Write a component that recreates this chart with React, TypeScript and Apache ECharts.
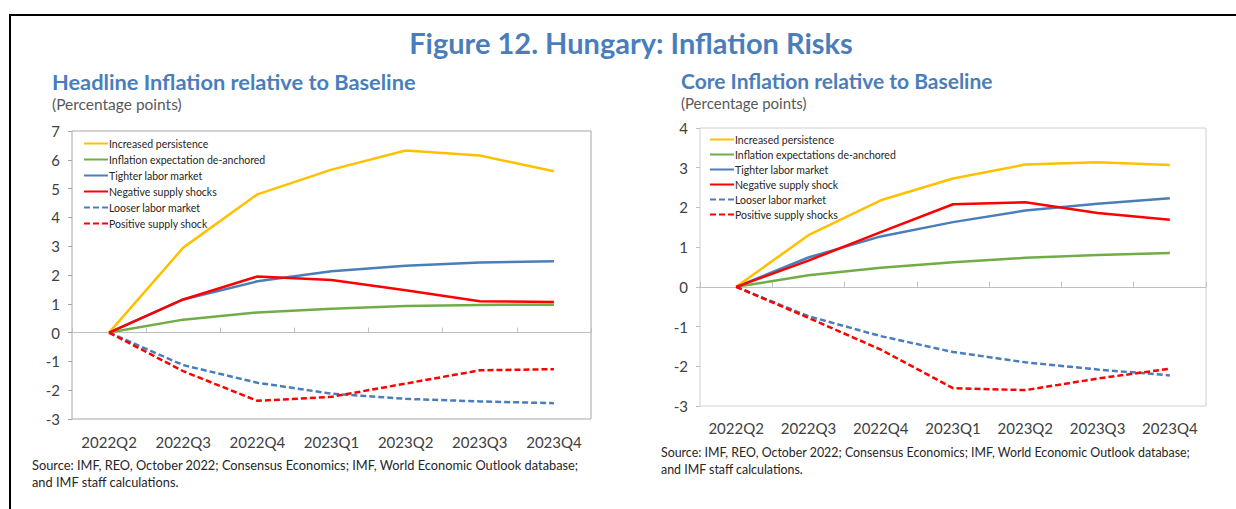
import React, { useEffect, useRef } from "react";
import * as echarts from "echarts";

const categories = ["2022Q2", "2022Q3", "2022Q4", "2023Q1", "2023Q2", "2023Q3", "2023Q4"];

// Headline inflation relative to baseline (pp)
const hIncreased = [0, 2.95, 4.8, 5.66, 6.32, 6.15, 5.6];
const hExpect = [0, 0.45, 0.7, 0.83, 0.92, 0.96, 0.97];
const hTighter = [0, 1.15, 1.78, 2.13, 2.32, 2.43, 2.48];
const hNegSupply = [0, 1.15, 1.95, 1.83, 1.47, 1.09, 1.06];
const hLooser = [0, -1.13, -1.74, -2.12, -2.3, -2.39, -2.45];
const hPosSupply = [0, -1.34, -2.37, -2.23, -1.77, -1.31, -1.27];

// Core inflation relative to baseline (pp)
const cIncreased = [0, 1.3, 2.18, 2.73, 3.08, 3.14, 3.07];
const cExpect = [0, 0.29, 0.48, 0.62, 0.73, 0.8, 0.85];
const cTighter = [0, 0.74, 1.27, 1.63, 1.92, 2.09, 2.23];
const cNegSupply = [0, 0.66, 1.38, 2.08, 2.13, 1.86, 1.69];
const cLooser = [0, -0.74, -1.24, -1.64, -1.9, -2.08, -2.23];
const cPosSupply = [0, -0.78, -1.58, -2.55, -2.6, -2.31, -2.06];

const leftNames = [
  "Increased persistence",
  "Inflation expectation de-anchored",
  "Tighter labor market",
  "Negative supply shocks",
  "Looser labor market",
  "Positive supply shock",
];
const rightNames = [
  "Increased persistence",
  "Inflation expectations de-anchored",
  "Tighter labor market",
  "Negative supply shock",
  "Looser labor market",
  "Positive supply shocks",
];

const sourceLine1 = "Source: IMF, REO, October 2022; Consensus Economics; IMF, World Economic Outlook database;";
const sourceLine2 = "and IMF staff calculations.";

const YELLOW = "#FFC000";
const GREEN = "#70AD47";
const BLUE = "#4A7EBB";
const RED = "#FF0000";
const FONT = "Lato, 'Open Sans', sans-serif";
const TITLE_BLUE = "#4A7EBB";

function mkSeries(name: string, data: number[], color: string, dashed: boolean, xi: number, yi: number, z: number) {
  return {
    type: "line",
    name,
    data,
    xAxisIndex: xi,
    yAxisIndex: yi,
    symbol: "none",
    z,
    lineStyle: { color, width: 2.5, type: dashed ? [6, 3] : "solid" },
    itemStyle: { color },
  };
}

export default function App() {
  const ref = useRef<HTMLDivElement>(null);
  useEffect(() => {
    if (!ref.current) return;
    const chart = echarts.init(ref.current, null, { renderer: "svg" });
    const labelAxis = (gi: number, margin: number) => ({
      type: "category",
      gridIndex: gi,
      data: categories,
      position: "bottom",
      boundaryGap: true,
      axisLine: { show: false, onZero: false },
      axisTick: { show: false },
      axisLabel: { color: "#404040", fontSize: 15, fontFamily: FONT, margin },
      splitLine: { show: false },
    });
    const zeroAxis = (gi: number, lineColor: string) => ({
      type: "category",
      gridIndex: gi,
      data: categories,
      position: "bottom",
      boundaryGap: true,
      axisLine: { show: true, onZero: true, lineStyle: { color: lineColor, width: 1 } },
      axisTick: { show: true, inside: true, length: 5, lineStyle: { color: lineColor } },
      axisLabel: { show: false },
      splitLine: { show: false },
    });
    const yAx = (gi: number, min: number, max: number, tickColor: string) => ({
      type: "value",
      gridIndex: gi,
      min,
      max,
      interval: 1,
      axisLine: { show: false },
      axisTick: { show: true, length: 4, lineStyle: { color: tickColor } },
      axisLabel: { color: "#404040", fontSize: 15, fontFamily: FONT, margin: 12 },
      splitLine: { show: false },
    });
    const legendText = { fontSize: 10.5, color: "#262626", fontFamily: FONT, padding: [0, 0, 0, -4], lineHeight: 10 };
    const txt = (x: number, y: number, text: string, font: string, fill: string, align = "left") => ({
      type: "text",
      x,
      y,
      style: { text, fill, font, textAlign: align, textVerticalAlign: "middle" },
    });

    chart.setOption({
      animation: false,
      backgroundColor: "#ffffff",
      grid: [
        { left: 72, top: 131, width: 519, height: 288, show: true, borderColor: "#A6A6A6", borderWidth: 1, backgroundColor: "transparent" },
        { left: 700, top: 128, width: 506, height: 278, show: true, borderColor: "#D0D0D0", borderWidth: 1, backgroundColor: "transparent" },
      ],
      xAxis: [labelAxis(0, 15), zeroAxis(0, "#BFBFBF"), labelAxis(1, 14), zeroAxis(1, "#BFBFBF")],
      yAxis: [yAx(0, -3, 7, "#A6A6A6"), yAx(1, -3, 4, "#BFBFBF")],
      legend: [
        {
          orient: "vertical",
          left: 83,
          top: 138,
          padding: 0,
          itemWidth: 24,
          itemHeight: 10,
          itemGap: 5,
          selectedMode: false,
          itemStyle: { opacity: 0 },
          textStyle: legendText,
          data: leftNames,
        },
        {
          orient: "vertical",
          left: 709,
          top: 134,
          padding: 0,
          itemWidth: 24,
          itemHeight: 10,
          itemGap: 4,
          selectedMode: false,
          itemStyle: { opacity: 0 },
          textStyle: legendText,
          data: rightNames,
        },
      ],
      series: [
        mkSeries(leftNames[1], hExpect, GREEN, false, 0, 0, 2),
        mkSeries(leftNames[2], hTighter, BLUE, false, 0, 0, 3),
        mkSeries(leftNames[0], hIncreased, YELLOW, false, 0, 0, 4),
        mkSeries(leftNames[3], hNegSupply, RED, false, 0, 0, 5),
        mkSeries(leftNames[4], hLooser, BLUE, true, 0, 0, 3),
        mkSeries(leftNames[5], hPosSupply, RED, true, 0, 0, 4),
        mkSeries(rightNames[1], cExpect, GREEN, false, 2, 1, 2),
        mkSeries(rightNames[2], cTighter, BLUE, false, 2, 1, 3),
        mkSeries(rightNames[0], cIncreased, YELLOW, false, 2, 1, 4),
        mkSeries(rightNames[3], cNegSupply, RED, false, 2, 1, 5),
        mkSeries(rightNames[4], cLooser, BLUE, true, 2, 1, 3),
        mkSeries(rightNames[5], cPosSupply, RED, true, 2, 1, 4),
      ],
      graphic: [
        { type: "line", shape: { x1: 10, y1: 15, x2: 1236, y2: 15 }, style: { stroke: "#000", lineWidth: 2 } },
        { type: "line", shape: { x1: 10, y1: 14, x2: 10, y2: 509 }, style: { stroke: "#000", lineWidth: 2 } },
        txt(631, 42, "Figure 12. Hungary: Inflation Risks", `bold 29px ${FONT}`, TITLE_BLUE, "center"),
        txt(52, 81, "Headline Inflation relative to Baseline", `bold 21.8px ${FONT}`, TITLE_BLUE),
        txt(52, 104, "(Percentage points)", `15.5px ${FONT}`, "#595959"),
        txt(681, 80, "Core Inflation relative to Baseline", `bold 21px ${FONT}`, TITLE_BLUE),
        txt(681, 103, "(Percentage points)", `15px ${FONT}`, "#595959"),
        txt(32, 465, sourceLine1, `12.8px ${FONT}`, "#262626"),
        txt(32, 482, sourceLine2, `12.8px ${FONT}`, "#262626"),
        txt(661, 452, sourceLine1, `12.4px ${FONT}`, "#262626"),
        txt(661, 469, sourceLine2, `12.4px ${FONT}`, "#262626"),
      ],
    });
    return () => chart.dispose();
  }, []);
  return <div ref={ref} style={{ position: "fixed", left: 0, top: 0, width: 1236, height: 509 }} />;
}
